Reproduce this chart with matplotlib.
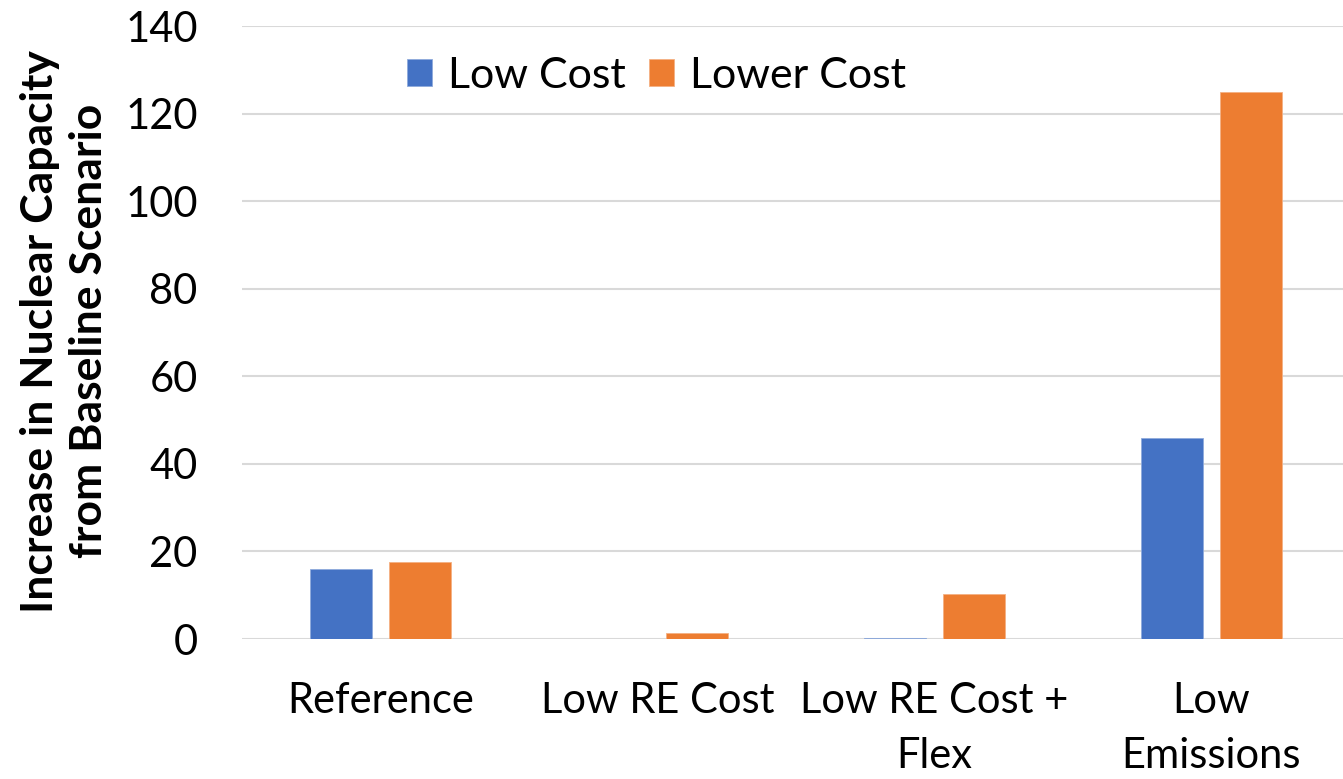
import numpy as np
import matplotlib.pyplot as plt

plt.rcParams['font.family'] = ['Lato', 'DejaVu Sans']

categories = ['Reference', 'Low RE Cost', 'Low RE Cost +\nFlex', 'Low\nEmissions']
low_cost = [16, 0, 0.2, 46]
lower_cost = [17.7, 1.3, 10.3, 125]
series_names = ['Low Cost', 'Lower Cost']
colors = ['#4472C4', '#ED7D31']

fig = plt.figure(figsize=(13.43, 7.79), dpi=100)
ax = fig.add_axes([0.1802, 0.1797, 0.8250, 0.7869])

x = np.arange(len(categories))
w = 0.224
off = 0.1426
ax.bar(x - off, low_cost, w, color=colors[0], edgecolor='#8FAADC', linewidth=0.6, label=series_names[0], zorder=3)
ax.bar(x + off, lower_cost, w, color=colors[1], edgecolor='#F4B183', linewidth=0.6, label=series_names[1], zorder=3)

ax.set_xlim(-0.5, 3.5)
ax.set_ylim(0, 140)
ax.set_yticks(np.arange(0, 141, 20))
ax.set_xticks(x)
ax.set_xticklabels(categories, linespacing=1.55)
ax.tick_params(axis='y', length=0, pad=32, labelsize=30)
ax.tick_params(axis='x', length=0, pad=31, labelsize=30)
ax.grid(axis='y', color='#d9d9d9', linewidth=1.5, zorder=0)
for s in ax.spines.values():
    s.set_visible(False)

fig.text(0.048, 0.575, 'Increase in Nuclear Capacity\nfrom Baseline Scenario', rotation=90,
         ha='center', va='center', fontsize=32, fontweight='bold', linespacing=1.3)

fig.legend(loc='center', bbox_to_anchor=(0.489, 0.903), ncol=2, frameon=False, fontsize=31,
           handlelength=0.58, handleheight=0.58, handletextpad=0.37, columnspacing=0.55)

fig.savefig('out.png', dpi=100)
